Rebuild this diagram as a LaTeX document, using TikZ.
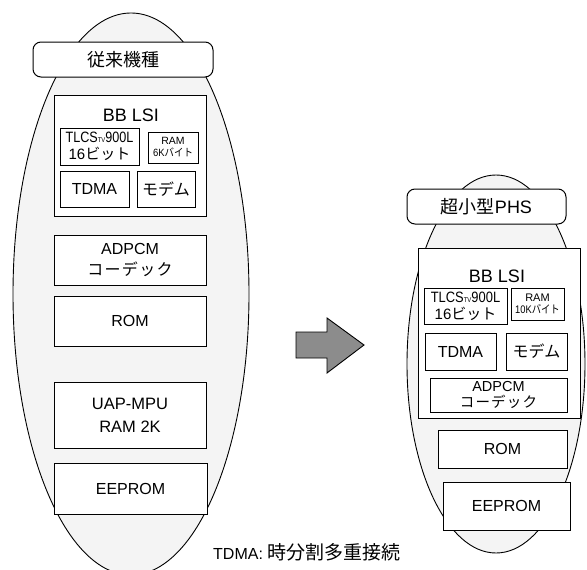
\documentclass[tikz,border=0pt]{standalone}
\usepackage{fontspec}
\usepackage{graphicx}
\setmainfont{Liberation Sans}
\newfontfamily\jp{Noto Sans CJK JP}
\newfontfamily\jpw[LetterSpace=8]{Noto Sans CJK JP}
\newcommand\fs[1]{\fontsize{#1}{#1}\selectfont}
\begin{document}
\begin{tikzpicture}[x=1pt,y=-1pt,
  ell/.style={draw=black, line width=0.9pt, fill=gray!9},
  tag/.style={draw, line width=1pt, fill=white, rounded corners=8pt, inner sep=0pt, align=center},
  box/.style={draw, line width=0.9pt, fill=white, inner sep=0pt, align=center},
  txt/.style={inner sep=0pt, align=center},
  arrowshape/.style={draw=black, line width=0.9pt, fill=black!45, line join=miter}]
\useasboundingbox (0,0) rectangle (587,570);

% ---------- left: conventional model ----------
\draw[ell] (131,294) ellipse [x radius=118, y radius=281];
\node[tag, minimum width=180pt, minimum height=35pt, font=\jp\fs{18}] (tagA) at (123,59.5) {従来機種};
\node[box, minimum width=152pt, minimum height=121pt] (lsiA) at (130,155.5) {};
\node[txt, font=\fs{18}] (lsiAt) at (131,115) {BB LSI};
\node[box, minimum width=79pt, minimum height=37pt, font={\fontsize{15}{17}\selectfont}] (tlcsA) at (99.5,146.5)
  {\scalebox{0.84}[1]{TLCS{\fs{7}TV}900L}\\16{\jp ビット}};
\node[box, minimum width=50pt, minimum height=31pt, font={\fontsize{10.5}{12}\selectfont}] (ramA) at (173,147.5)
  {RAM\\\scalebox{0.9}[1]{6K{\jp バイト}}};
\node[box, minimum width=69pt, minimum height=36pt, font=\fs{16}] (tdmaA) at (94.5,189) {TDMA};
\node[box, minimum width=58pt, minimum height=36pt, font=\jp\fs{16}] (modemA) at (166,189) {モデム};
\node[box, minimum width=152pt, minimum height=50pt, font={\fontsize{16}{21}\selectfont}] (adpcmA) at (130,260)
  {ADPCM\\{\jpw コーデック}};
\node[box, minimum width=152pt, minimum height=50pt, font=\fs{16}] (romA) at (130,321) {ROM};
\node[box, minimum width=152pt, minimum height=66pt, font={\fontsize{16.5}{23}\selectfont}] (uapA) at (130,415)
  {UAP-MPU\\RAM 2K};
\node[box, minimum width=153pt, minimum height=51pt, font=\fs{16}] (eepA) at (130.5,488.5) {EEPROM};

% ---------- arrow ----------
\draw[arrowshape] (296,332) -- (327,332) -- (327,318) -- (364,345) -- (327,373) -- (327,358) -- (296,358) -- cycle;

% ---------- right: ultra small PHS ----------
\draw[ell] (496,364) ellipse [x radius=89, y radius=189];
\node[tag, minimum width=159pt, minimum height=35pt, font=\fs{18}] (tagB) at (486.5,206.5) {{\jp 超小型}PHS};
\node[box, minimum width=162pt, minimum height=170pt] (lsiB) at (499,333) {};
\node[txt, font=\fs{18}] (lsiBt) at (497,276) {BB LSI};
\node[box, minimum width=83pt, minimum height=36pt, font={\fontsize{15}{17}\selectfont}] (tlcsB) at (465.5,306)
  {\scalebox{0.86}[1]{TLCS{\fs{7}TV}900L}\\16{\jp ビット}};
\node[box, minimum width=53pt, minimum height=32pt, font={\fontsize{11}{12}\selectfont}] (ramB) at (537.5,304)
  {RAM\\\scalebox{0.85}[1]{10K{\jp バイト}}};
\node[box, minimum width=71pt, minimum height=37pt, font=\fs{16}] (tdmaB) at (460.5,351.5) {TDMA};
\node[box, minimum width=61pt, minimum height=37pt, font=\jp\fs{16}] (modemB) at (536.5,351.5) {モデム};
\node[box, minimum width=137pt, minimum height=34pt, font={\fontsize{14.5}{16}\selectfont}] (adpcmB) at (498.5,395)
  {ADPCM\\{\jpw\fs{14.5}コーデック}};
\node[box, minimum width=129pt, minimum height=38pt, font=\fs{16}] (romB) at (502.5,449) {ROM};
\node[box, minimum width=127pt, minimum height=48pt, font=\fs{16}] (eepB) at (506.5,506) {EEPROM};

% ---------- caption ----------
\node[txt, anchor=base west, font=\fs{16}] (cap) at (213,559) {TDMA: {\jp\fs{19}時分割多重接続}};
\end{tikzpicture}
\end{document}
